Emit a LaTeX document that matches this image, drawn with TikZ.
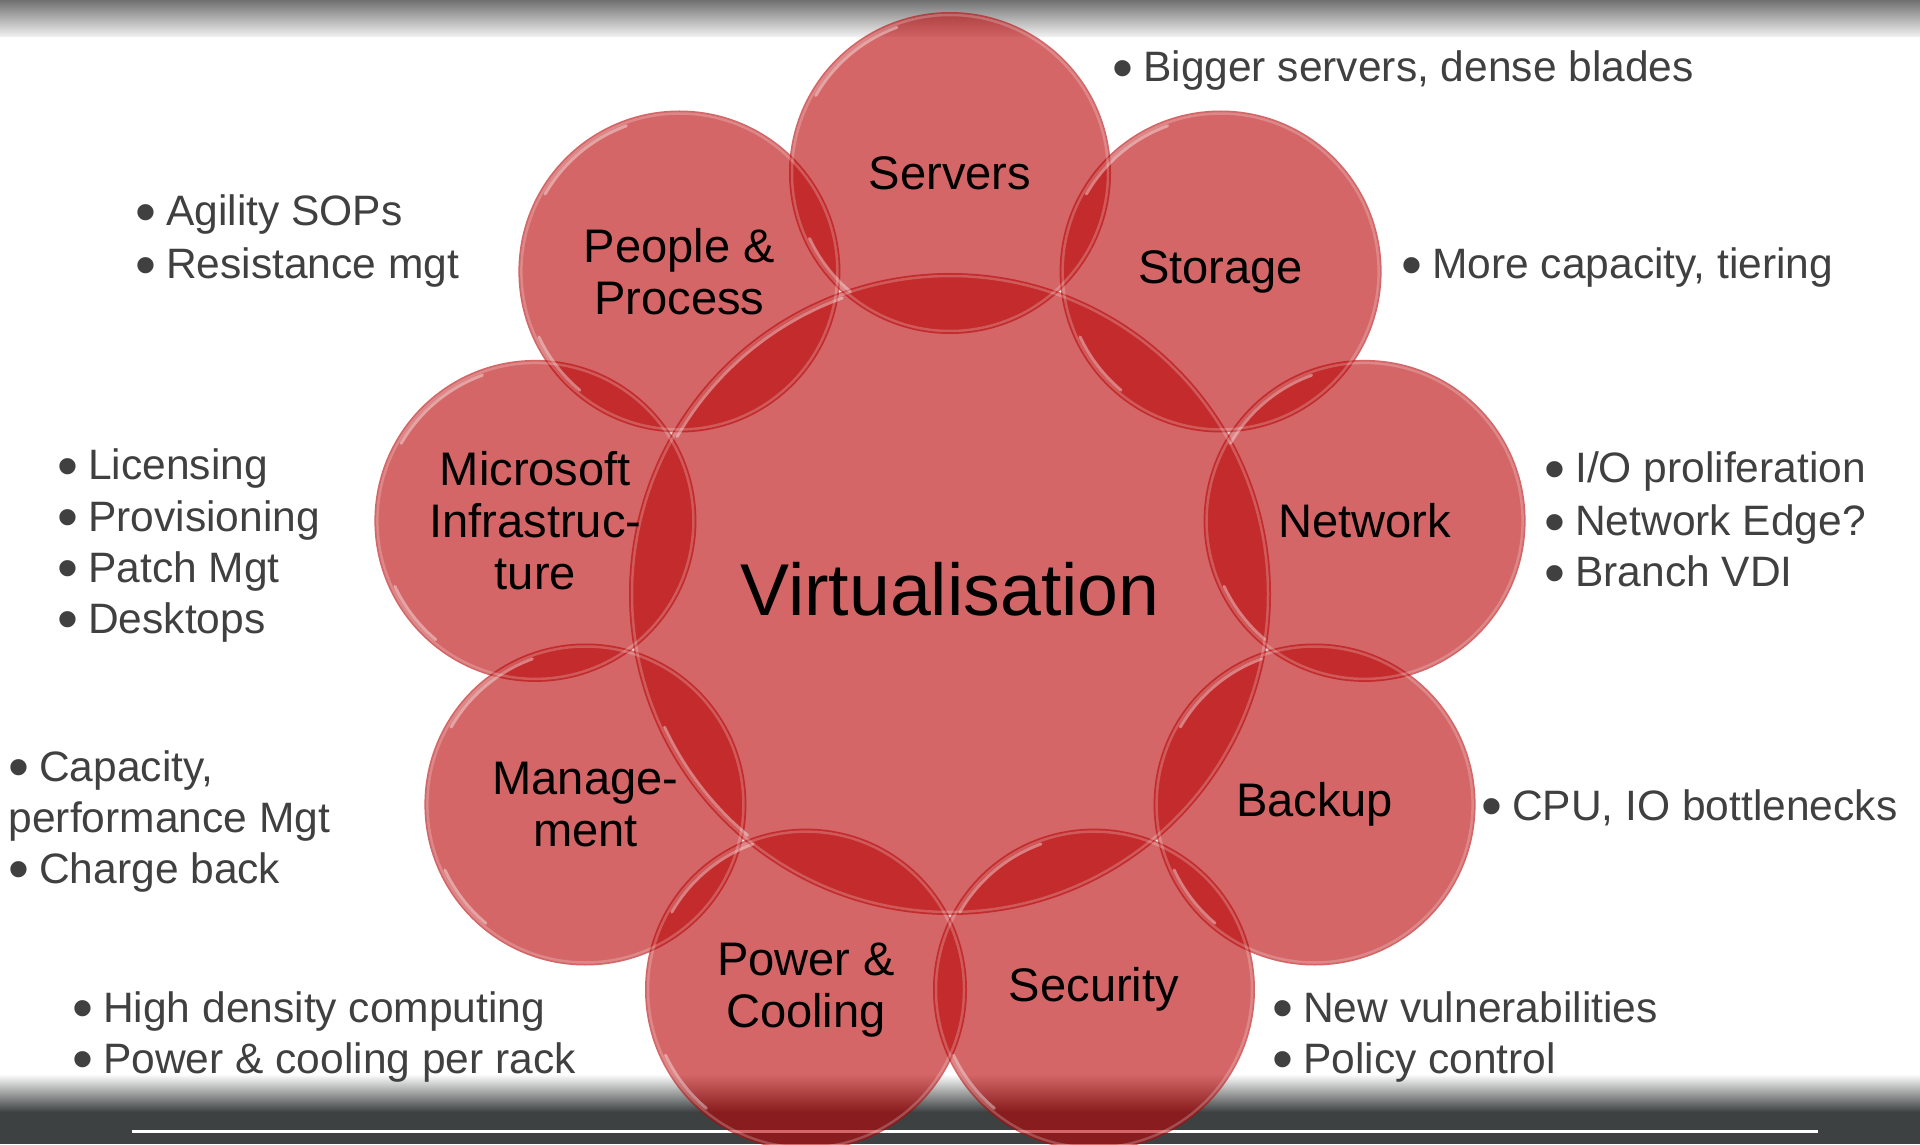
\documentclass[tikz,border=0pt]{standalone}
\usepackage{fontspec}
\setmainfont{Liberation Sans}
\definecolor{discred}{RGB}{185,6,8}
\definecolor{notegray}{RGB}{64,64,64}
\definecolor{bandtop}{RGB}{112,112,112}
\definecolor{bandlow}{RGB}{242,242,242}
\definecolor{floorgray}{RGB}{61,65,65}
% bullet glyph with a fixed hanging width
\newcommand\bl{\makebox[3.05mm][l]{\smash{\raisebox{-0.65mm}{\fontsize{17pt}{17pt}\selectfont •}}}}

\begin{document}
\begin{tikzpicture}[x=0.1mm,y=0.1mm,
  disc/.style={fill=discred, fill opacity=0.61},
  rim/.style={draw=white, draw opacity=0.22, line width=0.25mm},
  gloss/.style={draw=white, draw opacity=0.4, line width=0.3mm, line cap=round},
  hublabel/.style={font=\fontsize{20.9pt}{24pt}\selectfont, text=black, inner sep=0},
  lbl/.style={font=\fontsize{13.4pt}{14.8pt}\selectfont, align=center, text=black, inner sep=0},
  note/.style={font=\fontsize{12.1pt}{14.7pt}\selectfont, text=notegray, anchor=base west, inner sep=0}]

\useasboundingbox (0,0) rectangle (1920,1144);

% page background: grey band on top, dark floor at the bottom
\fill[white] (0,0) rectangle (1920,1144);
\shade[top color=bandtop, bottom color=bandlow] (0,1107) rectangle (1920,1144);
\shade[top color=white, bottom color=floorgray] (0,32) rectangle (1920,70);
\fill[floorgray] (0,0) rectangle (1920,32);
\draw[white, line width=0.3mm] (132,13) -- (1818,13);

% hub and the nine satellites, 40 degrees apart
\coordinate (hub) at (950,550);
\foreach \n/\a in {servers/90, storage/50, network/10, backup/-30, security/-70,
                   power/-110, management/-150, microsoft/170, people/130}
  \coordinate (\n) at ([shift={(\a:421)}]hub);

% translucent discs
\fill[disc] (hub) circle[radius=321];
\foreach \n in {servers, storage, network, backup, security, power, management, microsoft, people}
  \fill[disc] (\n) circle[radius=161];

% bevel highlights
\draw[rim] (hub) circle[radius=318];
\foreach \n in {servers, storage, network, backup, security, power, management, microsoft, people}
  \draw[rim] (\n) circle[radius=158];
\foreach \n/\r in {hub/315, servers/155, storage/155, network/155, backup/155, security/155,
                   power/155, management/155, microsoft/155, people/155}{
  \draw[gloss] ([shift={(110:\r)}]\n) arc[start angle=110, end angle=150, radius=\r];
  \draw[gloss] ([shift={(205:\r)}]\n) arc[start angle=205, end angle=230, radius=\r];
}

% disc labels
\node[hublabel] (hub-t) at (950,555) {Virtualisation};
\node[lbl] (servers-t) at (servers) {Servers};
\node[lbl] (storage-t) at (storage) {Storage};
\node[lbl] (network-t) at (network) {Network};
\node[lbl] (backup-t) at (backup) {Backup};
\node[lbl] (security-t) at (security) {Security};
\node[lbl] (power-t) at (power) {Power \&\\Cooling};
\node[lbl] (management-t) at (management) {Manage-\\ment};
\node[lbl] (microsoft-t) at (microsoft) {Microsoft\\Infrastruc-\\ture};
\node[lbl] (people-t) at (people) {People \&\\Process};

% bullet notes
\node[note] (n-servers) at (1112,1062) {\bl Bigger servers, dense blades};
\node[note] (n-storage) at (1401,865) {\bl More capacity, tiering};
\node[note] (n-people-1) at (135,918) {\bl Agility SOPs};
\node[note] (n-people-2) at (135,865) {\bl Resistance mgt};
\node[note] (n-network-1) at (1544,661) {\bl I/O proliferation};
\node[note] (n-network-2) at (1544,608) {\bl Network Edge?};
\node[note] (n-network-3) at (1544,557) {\bl Branch VDI};
\node[note] (n-ms-1) at (57,664) {\bl Licensing};
\node[note] (n-ms-2) at (57,613) {\bl Provisioning};
\node[note] (n-ms-3) at (57,562) {\bl Patch Mgt};
\node[note] (n-ms-4) at (57,511) {\bl Desktops};
\node[note] (n-mgmt-1) at (8,363) {\bl Capacity,};
\node[note] (n-mgmt-2) at (8,312) {performance Mgt};
\node[note] (n-mgmt-3) at (8,261) {\bl Charge back};
\node[note] (n-backup) at (1481,324) {\bl CPU, IO bottlenecks};
\node[note] (n-power-1) at (72,122) {\bl High density computing};
\node[note] (n-power-2) at (72,71) {\bl Power \& cooling per rack};
\node[note] (n-sec-1) at (1272,122) {\bl New vulnerabilities};
\node[note] (n-sec-2) at (1272,71) {\bl Policy control};
\end{tikzpicture}
\end{document}
